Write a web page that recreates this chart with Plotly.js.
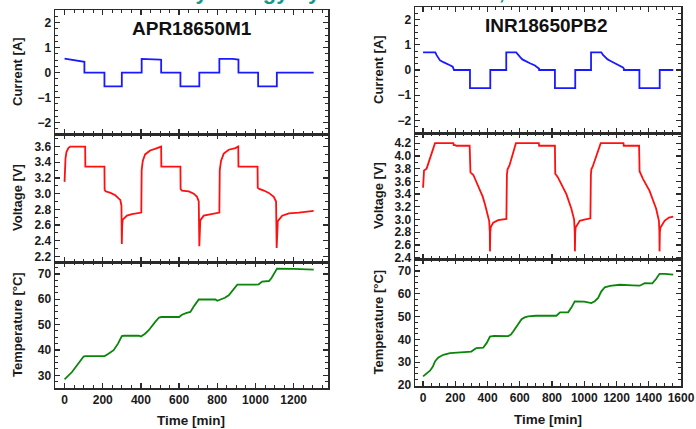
<!DOCTYPE html>
<html>
<head>
<meta charset="utf-8">
<script src="https://cdn.plot.ly/plotly-3.0.1.min.js"></script>
<style>
html,body{margin:0;padding:0;background:#fff;overflow:hidden;}
#chart{width:696px;height:429px;}
</style>
</head>
<body>
<div id="chart"></div>
<script>
// ---------- APR18650M1 (left) ----------
const aprCurT = [0, 20, 40, 60, 80, 100, 104, 104, 209, 209, 300, 300, 404, 404, 470, 500, 506, 506, 607, 607, 706, 706, 811, 811, 880, 905, 911, 911, 1014, 1014, 1112, 1112, 1305];
const aprCur  = [0.56, 0.53, 0.51, 0.49, 0.47, 0.44, 0.43, 0, 0, -0.55, -0.55, 0, 0, 0.55, 0.55, 0.52, 0.51, 0, 0, -0.55, -0.55, 0, 0, 0.55, 0.55, 0.53, 0.52, 0, 0, -0.55, -0.55, 0, 0];

const aprVolT = [0, 2, 5, 10, 20, 30, 108, 109, 209, 210, 215, 241, 266, 283, 292, 298, 300, 302, 305, 327, 353, 400, 402, 404, 410, 422, 448, 474, 500, 506, 507, 607, 608, 615, 651, 677, 694, 703, 706, 708, 711, 729, 773, 809, 811, 813, 820, 834, 860, 895, 910, 911, 1011, 1012, 1020, 1044, 1070, 1096, 1108, 1111, 1113, 1117, 1140, 1175, 1227, 1305];
const aprVol  = [3.15, 3.30, 3.45, 3.53, 3.58, 3.60, 3.60, 3.345, 3.345, 3.05, 3.03, 3.01, 2.98, 2.94, 2.92, 2.85, 2.36, 2.60, 2.67, 2.72, 2.74, 2.75, 2.76, 3.30, 3.42, 3.50, 3.55, 3.57, 3.59, 3.60, 3.345, 3.345, 3.06, 3.04, 3.03, 3.00, 2.96, 2.90, 2.33, 2.58, 2.66, 2.72, 2.74, 2.75, 2.76, 3.30, 3.42, 3.51, 3.56, 3.58, 3.60, 3.345, 3.345, 3.075, 3.06, 3.04, 3.01, 2.96, 2.90, 2.31, 2.58, 2.65, 2.72, 2.75, 2.76, 2.78];

const aprTmpT = [0, 4, 39, 60, 82, 100, 108, 210, 230, 257, 280, 300, 310, 390, 400, 420, 441, 460, 475, 495, 507, 600, 615, 640, 659, 680, 703, 790, 800, 820, 840, 860, 885, 905, 1000, 1017, 1035, 1071, 1085, 1100, 1113, 1200, 1305];
const aprTmp  = [28.5, 28.7, 31.3, 33.5, 35.9, 37.4, 37.6, 37.6, 38.5, 39.9, 42.5, 45.5, 45.6, 45.6, 45.3, 46.3, 47.8, 49.8, 51.1, 52.8, 53.0, 53.0, 53.9, 54.6, 55.0, 57.5, 59.9, 59.9, 59.4, 60.0, 60.6, 61.6, 64.0, 65.8, 65.8, 65.9, 67.0, 67.2, 68.5, 70.5, 72.1, 72.0, 71.7];

// ---------- INR18650PB2 (right) ----------
const inrCurT = [0, 76, 84, 95, 105, 126, 146, 167, 184, 190, 192, 291, 291, 417, 417, 516, 516, 578, 588, 601, 616, 632, 663, 694, 715, 720, 720, 818, 818, 944, 944, 1042, 1042, 1106, 1116, 1130, 1145, 1160, 1190, 1220, 1240, 1246, 1246, 1342, 1342, 1468, 1468, 1552];
const inrCur  = [0.70, 0.70, 0.59, 0.46, 0.38, 0.31, 0.26, 0.19, 0.13, 0.07, 0, 0, -0.72, -0.72, 0, 0, 0.70, 0.70, 0.60, 0.52, 0.42, 0.36, 0.27, 0.18, 0.10, 0.05, 0, 0, -0.72, -0.72, 0, 0, 0.70, 0.70, 0.60, 0.50, 0.42, 0.37, 0.27, 0.18, 0.10, 0.05, 0, 0, -0.72, -0.72, 0, 0];

const inrVolT = [0, 3, 6, 22, 74, 188, 190, 200, 205, 289, 291, 294, 312, 330, 353, 370, 384, 404, 410, 414, 415, 417, 420, 435, 466, 514, 517, 520, 524, 536, 576, 718, 720, 818, 820, 835, 860, 889, 920, 937, 941, 942, 944, 947, 972, 1000, 1038, 1041, 1044, 1052, 1102, 1243, 1245, 1340, 1343, 1364, 1385, 1405, 1446, 1463, 1466, 1467, 1469, 1472, 1498, 1525, 1552];
const inrVol  = [3.50, 3.72, 3.77, 3.80, 4.20, 4.20, 4.17, 4.17, 4.16, 4.16, 3.82, 3.74, 3.70, 3.60, 3.48, 3.36, 3.24, 3.06, 2.98, 2.80, 2.50, 2.80, 2.88, 2.95, 2.99, 3.01, 3.01, 3.70, 3.79, 3.85, 4.20, 4.20, 4.16, 4.16, 3.72, 3.67, 3.55, 3.40, 3.17, 3.00, 2.80, 2.50, 2.80, 2.88, 2.98, 3.00, 3.02, 3.70, 3.79, 3.83, 4.20, 4.20, 4.16, 4.16, 3.76, 3.64, 3.55, 3.45, 3.17, 2.98, 2.80, 2.50, 2.80, 2.87, 2.98, 3.03, 3.045];

const inrTmpT = [0, 43, 60, 75, 95, 126, 167, 250, 299, 315, 330, 373, 395, 415, 440, 528, 545, 559, 585, 611, 630, 652, 700, 827, 850, 900, 920, 941, 1000, 1044, 1065, 1086, 1105, 1127, 1160, 1220, 1300, 1344, 1375, 1422, 1445, 1467, 1500, 1552];
const inrTmp  = [23.8, 26.3, 28.0, 30.5, 32.1, 33.3, 34.0, 34.6, 34.7, 35.5, 36.2, 36.4, 38.5, 41.3, 41.6, 41.5, 42.2, 43.5, 46.5, 48.9, 49.7, 50.1, 50.4, 50.4, 51.9, 51.9, 54.0, 56.7, 56.6, 56.0, 56.8, 58.2, 61.0, 62.9, 63.5, 64.0, 63.7, 63.6, 64.7, 64.6, 66.5, 68.8, 68.8, 68.4];

const cellNames = ['APR18650M1', 'INR18650PB2'];
const yTitles = ['Current [A]', 'Voltage [V]', 'Temperature [°C]'];
const xTitle = 'Time [min]';
const headingText = 'Battery Energy by Cell Chemistries,';

// ---------- layout helpers ----------
const W = 696, H = 429;
const px = v => v / W;
const py = v => 1 - v / H;
const FONT = 'Arial, "Liberation Sans", sans-serif';
const tickFont = {family: FONT, size: 12, weight: 'bold', color: '#1a1a1a'};

function axis(extra, minorDtick) {
  return Object.assign({
    showline: true, linecolor: '#2a2a2a', linewidth: 1.5, mirror: 'allticks',
    ticks: 'inside', ticklen: 5, tickwidth: 1.2, tickcolor: '#2a2a2a',
    minor: {ticks: 'inside', ticklen: 3, tickwidth: 1, tickcolor: '#2a2a2a', dtick: minorDtick, showgrid: false},
    showgrid: false, zeroline: false, tickfont: tickFont, automargin: false
  }, extra);
}

const colX = [[px(55), px(328)], [px(415), px(681)]];
const rowsL = [[py(134), py(10)], [py(262), py(134)], [py(388), py(262)]];
const rowsR = [[py(133), py(7)], [py(259), py(133)], [py(386), py(259)]];
const xRanges = [[-50, 1380], [-50, 1600]];
const curRanges = [[-2.45, 2.5], [-2.5, 2.5]];
const volRanges = [[2.13, 3.76], [2.38, 4.36]];
const tmpRanges = [[25, 74.7], [19.6, 75.3]];

const layout = {
  width: W, height: H,
  margin: {l: 0, r: 0, t: 0, b: 0},
  paper_bgcolor: '#ffffff', plot_bgcolor: '#ffffff',
  showlegend: false,
  annotations: [],
  font: {family: FONT}
};

const traces = [];
const series = [
  [[aprCurT, aprCur], [aprVolT, aprVol], [aprTmpT, aprTmp]],
  [[inrCurT, inrCur], [inrVolT, inrVol], [inrTmpT, inrTmp]]
];
const colors = ['#1a1aff', '#ff1010', '#0a860a'];
const yRangesAll = [curRanges, volRanges, tmpRanges];
const yDticks = [1, 0.2, 10];
const yMinor = [0.25, 0.1, 2.5];
const yFormats = ['', '.1f', ''];

for (let c = 0; c < 2; c++) {
  const rows = c === 0 ? rowsL : rowsR;
  for (let r = 0; r < 3; r++) {
    const idx = c * 3 + r + 1;
    const xa = 'xaxis' + (idx === 1 ? '' : idx);
    const ya = 'yaxis' + (idx === 1 ? '' : idx);
    const xs = 'x' + (idx === 1 ? '' : idx);
    const ys = 'y' + (idx === 1 ? '' : idx);
    layout[xa] = axis({domain: colX[c], range: xRanges[c], anchor: ys, dtick: 200, tick0: 0,
      showticklabels: r === 2}, 50);
    layout[ya] = axis({domain: rows[r], range: yRangesAll[r][c], anchor: xs, dtick: yDticks[r], tick0: 0,
      tickformat: yFormats[r]}, yMinor[r]);
    traces.push({x: series[c][r][0], y: series[c][r][1], xaxis: xs, yaxis: ys, type: 'scatter',
      mode: 'lines', line: {color: colors[r], width: 1.8}, hoverinfo: 'skip'});
  }
}

// y titles
const yTitleX = [17, 378];
for (let c = 0; c < 2; c++) {
  const rows = c === 0 ? rowsL : rowsR;
  for (let r = 0; r < 3; r++) {
    layout.annotations.push({xref: 'paper', yref: 'paper', x: px(yTitleX[c]), y: (rows[r][0] + rows[r][1]) / 2,
      text: yTitles[r], textangle: -90, showarrow: false, xanchor: 'center', yanchor: 'middle',
      font: {family: FONT, size: 13, weight: 'bold', color: '#1a1a1a'}});
  }
}
// x titles
layout.annotations.push({xref: 'paper', yref: 'paper', x: px(191), y: py(420), text: xTitle, showarrow: false,
  xanchor: 'center', yanchor: 'middle', font: {family: FONT, size: 13.5, weight: 'bold', color: '#1a1a1a'}});
layout.annotations.push({xref: 'paper', yref: 'paper', x: px(548), y: py(419), text: xTitle, showarrow: false,
  xanchor: 'center', yanchor: 'middle', font: {family: FONT, size: 13.5, weight: 'bold', color: '#1a1a1a'}});
// panel titles
layout.annotations.push({xref: 'paper', yref: 'paper', x: px(191.5), y: py(28), text: cellNames[0], showarrow: false,
  xanchor: 'center', yanchor: 'middle', font: {family: FONT, size: 19, weight: 'bold', color: '#111'}});
layout.annotations.push({xref: 'paper', yref: 'paper', x: px(546), y: py(26), text: cellNames[1], showarrow: false,
  xanchor: 'center', yanchor: 'middle', font: {family: FONT, size: 19, weight: 'bold', color: '#111'}});
// slide heading, cut off by the top edge as in the reference (only descenders visible)
layout.annotations.push({xref: 'paper', yref: 'paper', x: px(130), y: 1, yshift: -6, text: headingText,
  showarrow: false, xanchor: 'left', yanchor: 'bottom', font: {family: FONT, size: 22, weight: 'bold', color: '#16998a'}});

Plotly.newPlot('chart', traces, layout, {staticPlot: true, displayModeBar: false});
</script>
</body>
</html>
